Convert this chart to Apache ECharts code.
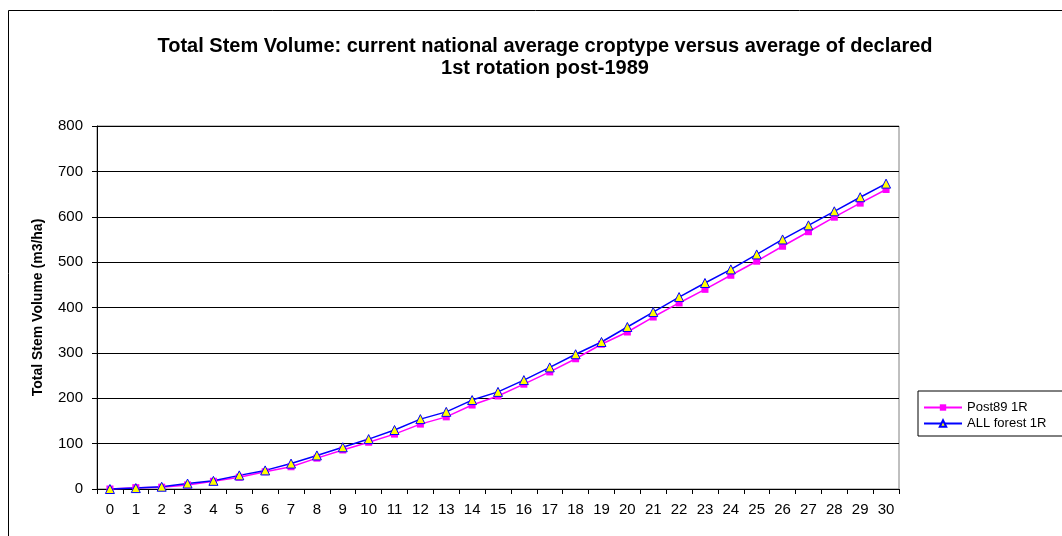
<!DOCTYPE html>
<html>
<head>
<meta charset="utf-8">
<script src="https://cdn.jsdelivr.net/npm/echarts@6/dist/echarts.min.js"></script>
<style>
  html, body { margin: 0; padding: 0; background: #fff; }
  #chart-container { width: 1062px; height: 536px; }
</style>
</head>
<body>
<div id="chart-container"></div>
<script>
// years since planting
var years = ['0', '1', '2', '3', '4', '5', '6', '7', '8', '9', '10', '11', '12', '13', '14', '15',
  '16', '17', '18', '19', '20', '21', '22', '23', '24', '25', '26', '27', '28', '29', '30'];

var post89 = [0, 3, 4, 9, 17, 26, 38, 49, 68, 86, 103, 121, 143, 159, 185, 205, 231, 258, 287, 319, 346, 379, 410, 440, 471, 502, 535, 567, 599, 630, 660];
var allForest = [0, 2, 5, 12, 18, 30, 41, 56, 74, 92, 110, 130, 154, 170, 196, 214, 240, 268, 297, 324, 357, 390, 423, 454, 484, 517, 550, 581, 612, 643, 673];

var dom = document.getElementById('chart-container');
var myChart = echarts.init(dom, null, { renderer: 'canvas' });

var font = 'Liberation Sans, Arial, sans-serif';

var option = {
  animation: false,
  backgroundColor: '#fff',
  textStyle: { fontFamily: font, color: '#000' },
  title: {
    text: 'Total Stem Volume: current national average croptype versus average of declared\n1st rotation post-1989',
    left: 540,
    textAlign: 'center',
    top: 30,
    textStyle: { fontSize: 20, fontWeight: 'bold', color: '#000', lineHeight: 22, fontFamily: font }
  },
  graphic: [{
    type: 'rect',
    shape: { x: 8.5, y: 10.5, width: 1200, height: 600 },
    style: { fill: null, stroke: '#000', lineWidth: 1 },
    silent: true, z: -1
  }],
  legend: {
    orient: 'vertical',
    left: 918,
    top: 391,
    padding: [10, 40, 6, 5],
    itemGap: 3,
    itemWidth: 38,
    itemHeight: 8,
    borderColor: '#000',
    borderWidth: 1,
    textStyle: { fontSize: 13, color: '#000', fontFamily: font }
  },
  grid: {
    left: 97, right: 163, top: 126, bottom: 47,
    show: true, borderColor: '#808080', borderWidth: 1, backgroundColor: '#fff'
  },
  xAxis: {
    type: 'category',
    data: years,
    boundaryGap: true,
    axisLine: { lineStyle: { color: '#000', width: 1 } },
    axisTick: { show: true, length: 5, lineStyle: { color: '#000' } },
    axisLabel: { color: '#000', fontSize: 15, margin: 13, interval: 0, fontFamily: font }
  },
  yAxis: {
    type: 'value',
    min: 0, max: 800, interval: 100,
    name: 'Total Stem Volume (m3/ha)',
    nameLocation: 'middle',
    nameGap: 52,
    nameTextStyle: { fontSize: 14, fontWeight: 'bold', color: '#000', fontFamily: font },
    axisLine: { show: true, lineStyle: { color: '#000', width: 1 } },
    axisTick: { show: true, length: 5, lineStyle: { color: '#000' } },
    axisLabel: { color: '#000', fontSize: 15, margin: 14, fontFamily: font },
    splitLine: { show: true, lineStyle: { color: '#000', width: 1 } }
  },
  series: [
    {
      name: 'Post89 1R',
      type: 'line',
      data: post89,
      symbol: 'rect',
      symbolSize: 7,
      itemStyle: { color: '#ff00ff' },
      lineStyle: { color: '#ff00ff', width: 1.5 }
    },
    {
      name: 'ALL forest 1R',
      type: 'line',
      data: allForest,
      symbol: 'triangle',
      symbolSize: 9,
      itemStyle: { color: '#ffff00', borderColor: '#0000ff', borderWidth: 1 },
      lineStyle: { color: '#0000ff', width: 1.5 }
    }
  ]
};

myChart.setOption(option);
window.addEventListener('resize', myChart.resize);
</script>
</body>
</html>
